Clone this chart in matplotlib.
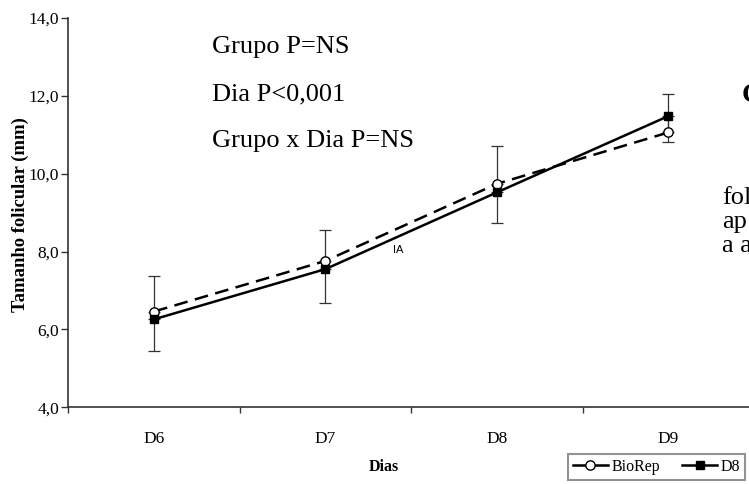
import matplotlib
matplotlib.use("Agg")
import matplotlib.pyplot as plt
from matplotlib.lines import Line2D

# Follicle size by day for the two groups
dias = ["D6", "D7", "D8", "D9"]
biorep = [6.46, 7.76, 9.74, 11.06]
d8 = [6.26, 7.55, 9.52, 11.48]
biorep_err_up = [0.92, 0.79, 0.96, 0.99]
d8_err_down = [0.81, 0.86, 0.79, 0.66]

stats_lines = ["Grupo P=NS", "Dia P<0,001", "Grupo x Dia P=NS"]
yticks = [4.0, 6.0, 8.0, 10.0, 12.0, 14.0]

serif = "Liberation Serif"
plt.rcParams["font.family"] = [serif, "DejaVu Serif"]

fig = plt.figure(figsize=(7.49, 4.84), dpi=100)
ax = fig.add_axes([0.0912, 0.1585, 0.9155, 0.8043])

x = list(range(len(dias)))

# error bars: BioRep upward, D8 downward
ax.errorbar(x, biorep, yerr=[[0] * 4, biorep_err_up], fmt="none",
            ecolor="#333333", elinewidth=0.9, capsize=4.5, capthick=0.9, zorder=2)
ax.errorbar(x, d8, yerr=[d8_err_down, [0] * 4], fmt="none",
            ecolor="#333333", elinewidth=0.9, capsize=4.5, capthick=0.9, zorder=2)

ax.plot(x, biorep, color="black", lw=1.8, dashes=(5.5, 3),
        marker="o", ms=6.7, mfc="white", mec="black", mew=1.0,
        label="BioRep", zorder=3)
ax.plot(x, d8, color="black", lw=1.8, linestyle="-",
        marker="s", ms=5.5, mfc="black", mec="black",
        label="D8", zorder=4)

ax.set_xlim(-0.5, 3.5)
ax.set_ylim(4, 14)
ax.set_yticks(yticks)
ax.set_yticklabels([f"{v:.1f}".replace(".", ",") for v in yticks], fontsize=12.5)

# boundary ticks without labels, category labels without tick marks
ax.set_xticks([-0.5, 0.5, 1.5, 2.5, 3.5])
ax.set_xticklabels([])
ax.set_xticks(x, minor=True)
ax.set_xticklabels(dias, minor=True, fontsize=12.5)
ax.tick_params(axis="x", which="minor", length=0, pad=17)
ax.tick_params(axis="x", which="major", length=4, width=1, color="#333333", direction="out")
ax.tick_params(axis="y", length=5, width=1, color="#333333", direction="out", pad=1.5)

for s in ["top", "right"]:
    ax.spines[s].set_visible(False)
for s in ["left", "bottom"]:
    ax.spines[s].set_color("#333333")
    ax.spines[s].set_linewidth(1.2)

fig.text(20 / 749, 1 - 215 / 484, "Tamanho folicular (mm)", fontsize=13.4,
         fontweight="bold", rotation=90, ha="center", va="center")
fig.text(384 / 749, 1 - 467 / 484, "Dias", fontsize=11.5, fontweight="bold",
         ha="center", va="center")

for i, t in enumerate(stats_lines):
    fig.text(212 / 749, 1 - (53 + 47 * i) / 484, t, fontsize=19,
             ha="left", va="baseline")

fig.text(398 / 749, 1 - 250 / 484, "IA", fontsize=8, family="Liberation Sans",
         ha="center", va="center")

# neighbouring page text at the right edge
fig.text(742 / 749, 1 - 102 / 484, "C", fontsize=20, fontweight="bold",
         ha="left", va="baseline")
for i, t in enumerate(["fol", "ap", "a a"]):
    fig.text(722 / 749, 1 - (204 + 24 * i) / 484, t, fontsize=19,
             ha="left", va="baseline")

handles = [
    Line2D([], [], color="black", lw=1.8, marker="o", ms=6.7, mfc="white", mec="black"),
    Line2D([], [], color="black", lw=1.8, marker="s", ms=5.5, mfc="black", mec="black"),
]
leg = fig.legend(handles, ["BioRep", "D8"], loc="upper left",
                 bbox_to_anchor=(568 / 749, 1 - 454 / 484), ncol=2,
                 fontsize=11.5, frameon=True, fancybox=False, handlelength=2.2,
                 handletextpad=0.2, columnspacing=1.4, borderpad=0.3,
                 borderaxespad=0)
leg.get_frame().set_edgecolor("#777777")
leg.get_frame().set_linewidth(1.5)

fig.savefig("out.png", dpi=100)
